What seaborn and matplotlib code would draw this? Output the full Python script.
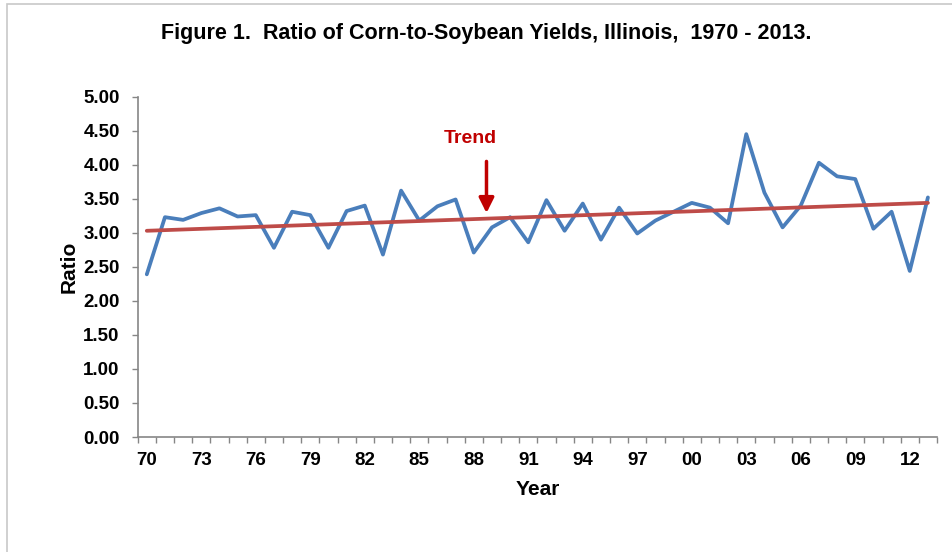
import numpy as np
import pandas as pd
import matplotlib
matplotlib.use("Agg")
import matplotlib.pyplot as plt
from matplotlib.patches import Rectangle
from matplotlib.ticker import FixedLocator, FuncFormatter
import seaborn as sns

years = list(range(1970, 2014))
ratio = [2.39, 3.23, 3.19, 3.29, 3.36, 3.24, 3.26, 2.78, 3.31, 3.26,
         2.78, 3.32, 3.40, 2.68, 3.62, 3.18, 3.39, 3.49, 2.71, 3.08,
         3.23, 2.86, 3.48, 3.03, 3.43, 2.90, 3.37, 2.99, 3.18, 3.31,
         3.44, 3.37, 3.14, 4.45, 3.59, 3.08, 3.40, 4.03, 3.83, 3.79,
         3.06, 3.31, 2.44, 3.52]
trend_years = [1970, 2013]
trend_values = [3.03, 3.44]
label_years = list(range(1970, 2013, 3))
y_ticks = [0.0, 0.5, 1.0, 1.5, 2.0, 2.5, 3.0, 3.5, 4.0, 4.5, 5.0]

title = "Figure 1.  Ratio of Corn-to-Soybean Yields, Illinois,  1970 - 2013."

sns.set_style("white")
plt.rcParams['font.family'] = ['Liberation Sans', 'DejaVu Sans']
plt.rcParams['text.color'] = 'black'
plt.rcParams['axes.labelcolor'] = 'black'

df = pd.DataFrame({"Year": years, "Ratio": ratio})
tdf = pd.DataFrame({"Year": trend_years, "Ratio": trend_values})

fig = plt.figure(figsize=(9.52, 5.52), dpi=100)
ax = fig.add_axes([137.7 / 952, 1 - 437 / 552, (937 - 137.7) / 952, (437 - 96.7) / 552])

sns.lineplot(data=df, x="Year", y="Ratio", ax=ax, color="#4A7EBB", linewidth=2.7)
sns.lineplot(data=tdf, x="Year", y="Ratio", ax=ax, color="#BE4B48", linewidth=2.7)

ax.set_xlim(1969.5, 2013.5)
ax.set_ylim(0, 5)

ax.xaxis.set_major_locator(FixedLocator(label_years))
ax.xaxis.set_major_formatter(FuncFormatter(lambda v, p: f"{int(round(v)) % 100:02d}"))
ax.xaxis.set_minor_locator(FixedLocator(np.arange(1969.5, 2014.0, 1.0)))
ax.set_yticks(y_ticks)
ax.yaxis.set_major_formatter(FuncFormatter(lambda v, p: f"{v:.2f}"))

ax.tick_params(axis='x', which='major', length=0, pad=10.5, labelsize=13.5, labelcolor='black')
ax.tick_params(axis='x', which='minor', length=4, width=1, color="#868686", direction='out', bottom=True)
ax.tick_params(axis='y', which='major', length=4, width=1, color="#868686", direction='out', left=True, pad=9,
               labelsize=13.5, labelcolor='black')
for lab in ax.get_xticklabels() + ax.get_yticklabels():
    lab.set_fontweight('bold')

for s in ['top', 'right']:
    ax.spines[s].set_visible(False)
for s in ['left', 'bottom']:
    ax.spines[s].set_color("#868686")
    ax.spines[s].set_linewidth(1.2)

ax.set_xlabel("Year", fontsize=15, fontweight='bold', labelpad=8, color='black')
ax.set_ylabel("Ratio", fontsize=15, fontweight='bold', labelpad=3, color='black')

fig.text(486 / 952, 1 - 33 / 552, title, ha='center', va='center', fontsize=15.5, fontweight='bold', color='black')

ax.text(1987.8, 4.38, "Trend", color="#C00000", fontsize=14, fontweight='bold', ha='center', va='center')
ax.annotate("", xy=(1988.7, 3.25), xytext=(1988.7, 4.09),
            arrowprops=dict(arrowstyle="-|>,head_length=0.9,head_width=0.45", color="#C00000", lw=2.5))

fig.add_artist(Rectangle((7 / 952, -0.1), 1.2, 1.1 - 4 / 552, transform=fig.transFigure,
                         fill=False, edgecolor="#C8C8C8", linewidth=1.2))

fig.savefig("out.png", dpi=100)
